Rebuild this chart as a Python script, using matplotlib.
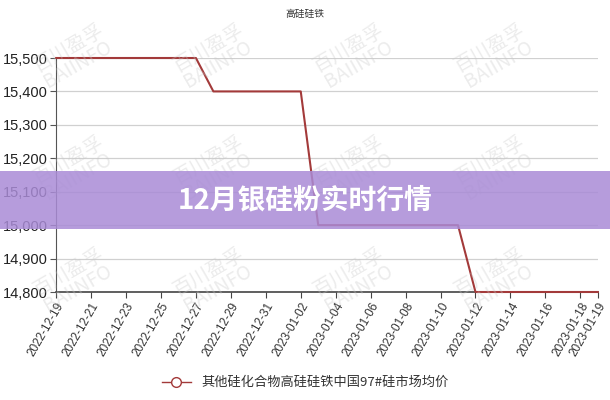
import numpy as np
import pandas as pd
import matplotlib
matplotlib.use("Agg")
import matplotlib.pyplot as plt
from matplotlib.lines import Line2D
from matplotlib.patches import Rectangle
from matplotlib.ticker import FuncFormatter

plt.rcParams['font.family'] = ['Noto Sans CJK SC', 'DejaVu Sans']

# data (daily, 2022-12-19 .. 2023-01-19)
dates = pd.date_range("2022-12-19", "2023-01-19", freq="D")
prices = [15500] * 9 + [15400] * 6 + [15000] * 9 + [14800] * 8
series_name = "其他硅化合物高硅硅铁中国97#硅市场均价"
chart_title = "高硅硅铁"
banner_text = "12月银硅粉实时行情"
yticks = [14800, 14900, 15000, 15100, 15200, 15300, 15400, 15500]

line_color = "#a33a3a"

fig = plt.figure(figsize=(6.1, 4.0), dpi=100)
ax = fig.add_axes([0.092, 0.27, 0.888, 0.585])

x = np.arange(len(dates))
ax.plot(x, prices, color=line_color, lw=1.5, zorder=3, clip_on=False)

ax.set_xlim(0, len(dates) - 1)
ax.set_ylim(14800, 15500)
ax.set_yticks(yticks)
ax.yaxis.set_major_formatter(FuncFormatter(lambda v, p: f"{int(v):,}"))
ax.grid(axis="y", color="#d0d0d0", lw=0.9)
ax.set_axisbelow(True)

tick_idx = list(range(0, len(dates), 2)) + [len(dates) - 1]
ax.set_xticks(tick_idx)
ax.set_xticklabels([dates[i].strftime("%Y-%m-%d") for i in tick_idx],
                   rotation=60, ha="right", rotation_mode="anchor",
                   fontsize=8.5, color="#333333", family="Liberation Sans")
for lab in ax.get_yticklabels():
    lab.set_family("Liberation Sans")
    lab.set_fontsize(10.5)
    lab.set_color("#222222")

for s in ["top", "right"]:
    ax.spines[s].set_visible(False)
ax.spines["left"].set_color("#555555")
ax.spines["bottom"].set_color("#444444")
ax.spines["bottom"].set_linewidth(1.2)
ax.tick_params(axis="y", length=4, color="#555555", pad=2)
ax.tick_params(axis="x", length=4, color="#444444", pad=2)

fig.text(0.5, 0.965, chart_title, ha="center", va="center", fontsize=7, color="#333333")

handle = Line2D([0], [0], color=line_color, lw=1, marker="o", markersize=7,
                markerfacecolor="white", markeredgecolor=line_color)
fig.legend([handle], [series_name], loc="center", bbox_to_anchor=(0.5, 0.043),
           frameon=False, fontsize=9.5, handlelength=2.2, labelcolor="#333333")

# watermarks
for wy in [0.86, 0.58, 0.3]:
    for wx in [0.12, 0.35, 0.58, 0.81]:
        fig.text(wx, wy, "百川盈孚\nBAIINFO", ha="center", va="center", rotation=30,
                 fontsize=14, color="#c8c8c8", alpha=0.35, linespacing=0.9, zorder=10)

# purple banner
fig.patches.append(Rectangle((0, 0.4275), 1, 0.145, transform=fig.transFigure,
                             facecolor="#a98bd6", alpha=0.85, edgecolor="none", zorder=20))
fig.text(0.5, 0.5, banner_text, ha="center", va="center", fontsize=20,
         fontweight="bold", color="white", zorder=21)

fig.savefig("out.png", dpi=100)
